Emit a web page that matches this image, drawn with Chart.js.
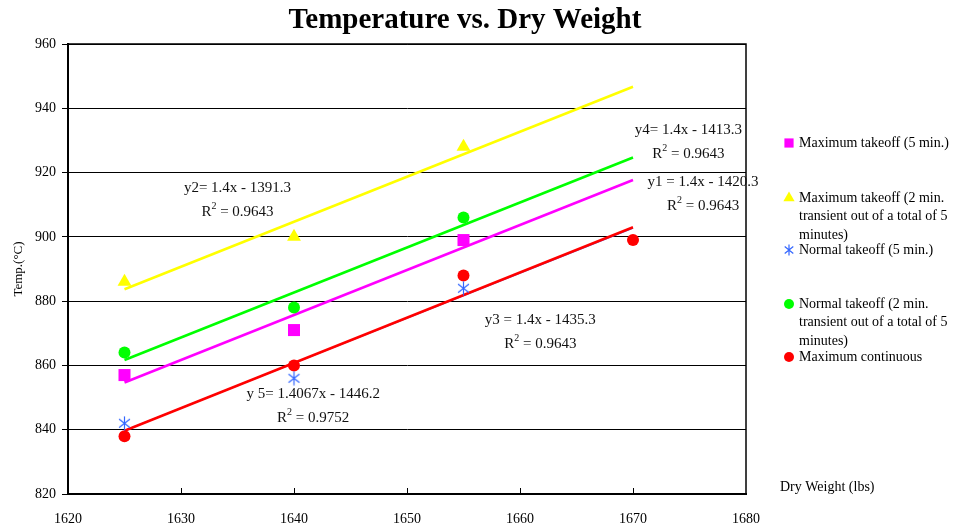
<!DOCTYPE html>
<html>
<head>
<meta charset="utf-8">
<script src="https://cdn.jsdelivr.net/npm/chart.js@4/dist/chart.umd.min.js"></script>
<style>
  html, body { margin: 0; padding: 0; background: #fff; }
</style>
</head>
<body>
<canvas id="tempChart" width="968" height="526"></canvas>
<script>
// measured points, temperature (°C) against dry weight (lbs)
const dryWeight = [1625, 1640, 1655];
const dryWeightCont = [1625, 1640, 1655, 1670];
const maxTakeoff5 = [857, 871, 899];
const maxTakeoff2 = [886, 900, 928];
const normTakeoff5 = [842, 856, 884];
const normTakeoff2 = [864, 878, 906];
const maxContinuous = [838, 860, 888, 899];

const seriesNames = [
  ['Maximum takeoff (5 min.)'],
  ['Maximum takeoff (2 min.', 'transient out of a total of 5', 'minutes)'],
  ['Normal takeoff (5 min.)'],
  ['Normal takeoff (2 min.', 'transient out of a total of 5', 'minutes)'],
  ['Maximum continuous']
];
const seriesColors = ['#ff00ff', '#ffff00', '#3366ff', '#00ff00', '#ff0000'];

// linear trendlines y = a*x + b, same order as the series
const fitNames = ['y1 = ', 'y2= ', 'y3 = ', 'y4= ', 'y 5= '];
const fitSlope = [1.4, 1.4, 1.4, 1.4, 1.4067];
const fitIntercept = [-1420.3, -1391.3, -1435.3, -1413.3, -1446.2];
const fitR2 = ['0.9643', '0.9643', '0.9643', '0.9643', '0.9752'];
const fitRange = [1625, 1670];
// where each equation sits (data units, centre of the first line)
const fitLabelAt = [[1676.2, 917.1], [1635, 915.2], [1661.8, 874.1], [1674.9, 933.2], [1641.7, 851.1]];

const serif = '"Liberation Serif", "Times New Roman", serif';

// six-armed asterisk marker: vertical stroke plus an X
function asterisk(size, color) {
  const c = document.createElement('canvas');
  c.width = c.height = size;
  const g = c.getContext('2d');
  const m = size / 2, r = size / 2 - 0.5;
  g.strokeStyle = color;
  g.lineWidth = 1.2;
  g.beginPath();
  g.moveTo(m, m - r); g.lineTo(m, m + r);
  g.moveTo(m - r * 0.78, m - r * 0.62); g.lineTo(m + r * 0.78, m + r * 0.62);
  g.moveTo(m - r * 0.78, m + r * 0.62); g.lineTo(m + r * 0.78, m - r * 0.62);
  g.stroke();
  return c;
}
const starImg = asterisk(15, seriesColors[2]);
const starSmall = asterisk(12, seriesColors[2]);

// marker per series: plot radius and legend radius
const pointStyles = [
  { pointStyle: 'rect', radius: 8.5, key: 6.5 },
  { pointStyle: 'triangle', radius: 8, key: 6.5 },
  { pointStyle: starImg, radius: 7, key: 6, keyStyle: starSmall },
  { pointStyle: 'circle', radius: 6, key: 5 },
  { pointStyle: 'circle', radius: 6, key: 5 }
];

const pts = (xs, ys) => xs.map((x, i) => ({ x: x, y: ys[i] }));
const trend = i => fitRange.map(x => ({ x: x, y: fitSlope[i] * x + fitIntercept[i] }));

const pointSets = [
  pts(dryWeight, maxTakeoff5),
  pts(dryWeight, maxTakeoff2),
  pts(dryWeight, normTakeoff5),
  pts(dryWeight, normTakeoff2),
  pts(dryWeightCont, maxContinuous)
];

const datasets = [];
pointSets.forEach((data, i) => {
  datasets.push({
    label: seriesNames[i].join(' '),
    data: data,
    pointStyle: pointStyles[i].pointStyle,
    pointRadius: pointStyles[i].radius,
    backgroundColor: seriesColors[i],
    borderColor: seriesColors[i],
    borderWidth: 0,
    showLine: false,
    order: 0
  });
});
// trendlines; red drawn last so it sits over the (thinner) blue one
[2, 1, 0, 3, 4].forEach((i, k) => {
  datasets.push({
    label: 'trend ' + i,
    data: trend(i),
    showLine: true,
    pointRadius: 0,
    borderColor: seriesColors[i],
    borderWidth: i === 2 ? 1.2 : 2.5,
    order: 10 - k
  });
});

function drawR2(ctx, cx, cy, value) {
  const big = '15px ' + serif, small = '10px ' + serif;
  ctx.font = big;
  const wR = ctx.measureText('R').width;
  const wRest = ctx.measureText(' = ' + value).width;
  ctx.font = small;
  const w2 = ctx.measureText('2').width;
  let x = cx - (wR + w2 + wRest) / 2;
  ctx.textAlign = 'left';
  ctx.font = big;
  ctx.fillText('R', x, cy);
  x += wR;
  ctx.font = small;
  ctx.fillText('2', x, cy - 6);
  x += w2;
  ctx.font = big;
  ctx.fillText(' = ' + value, x, cy);
}

const overlay = {
  id: 'overlay',
  afterDraw(chart) {
    const { ctx, chartArea: a, scales: { x, y } } = chart;
    ctx.save();

    // frame and inward x ticks
    ctx.strokeStyle = '#000';
    ctx.lineWidth = 1.5;
    ctx.strokeRect(a.left, a.top, a.right - a.left, a.bottom - a.top);
    ctx.lineWidth = 1;
    ctx.beginPath();
    for (let v = 1630; v < 1680; v += 10) {
      const px = Math.round(x.getPixelForValue(v)) + 0.5;
      ctx.moveTo(px, a.bottom);
      ctx.lineTo(px, a.bottom - 6);
    }
    ctx.stroke();

    ctx.fillStyle = '#000';
    ctx.textBaseline = 'middle';

    // title
    ctx.textAlign = 'center';
    ctx.font = 'bold 29px ' + serif;
    ctx.fillText('Temperature vs. Dry Weight', 465, 21);

    // x axis title, right of the plot
    ctx.textAlign = 'left';
    ctx.font = '14px ' + serif;
    ctx.fillText('Dry Weight (lbs)', 780, 487);

    // trendline equations
    ctx.fillStyle = '#111';
    fitLabelAt.forEach((p, i) => {
      const cx = x.getPixelForValue(p[0]);
      const cy = y.getPixelForValue(p[1]);
      ctx.textAlign = 'center';
      ctx.font = '15px ' + serif;
      const eq = fitNames[i] + fitSlope[i] + 'x - ' + Math.abs(fitIntercept[i]);
      ctx.fillText(eq, cx, cy);
      drawR2(ctx, cx, cy + 24, fitR2[i]);
    });

    // legend
    const rows = [143, 198, 250, 304, 357];
    ctx.textAlign = 'left';
    ctx.font = '14px ' + serif;
    seriesNames.forEach((lines, i) => {
      const ps = pointStyles[i];
      ctx.fillStyle = seriesColors[i];
      ctx.strokeStyle = seriesColors[i];
      Chart.helpers.drawPoint(ctx, {
        pointStyle: ps.keyStyle || ps.pointStyle,
        radius: ps.key,
        rotation: 0,
        borderWidth: 0
      }, 789, rows[i]);
      ctx.fillStyle = '#000';
      lines.forEach((t, j) => ctx.fillText(t, 799, rows[i] + j * 18.5));
    });

    ctx.restore();
  }
};

new Chart(document.getElementById('tempChart'), {
  type: 'scatter',
  data: { datasets: datasets },
  options: {
    responsive: false,
    animation: false,
    layout: { padding: { top: 44, right: 222, left: 0, bottom: 0 } },
    plugins: {
      legend: { display: false },
      title: { display: false },
      tooltip: { enabled: false }
    },
    scales: {
      x: {
        type: 'linear',
        min: 1620,
        max: 1680,
        ticks: {
          stepSize: 10, color: '#000', font: { family: serif, size: 14 }, padding: 17,
          callback: v => String(v)
        },
        grid: { drawOnChartArea: false, drawTicks: false },
        border: { color: '#000', width: 2 },
        afterFit(s) { s.height = 32; }
      },
      y: {
        min: 820,
        max: 960,
        ticks: { stepSize: 20, color: '#000', font: { family: serif, size: 14 }, padding: 6 },
        grid: { color: '#000', lineWidth: 1, tickLength: 6, tickColor: '#000' },
        border: { color: '#000', width: 2 },
        title: { display: true, text: 'Temp.(°C)', color: '#000', font: { family: serif, size: 13 }, padding: { top: 11, bottom: 0 } },
        afterFit(s) { s.width = 68; }
      }
    }
  },
  plugins: [overlay]
});
</script>
</body>
</html>
